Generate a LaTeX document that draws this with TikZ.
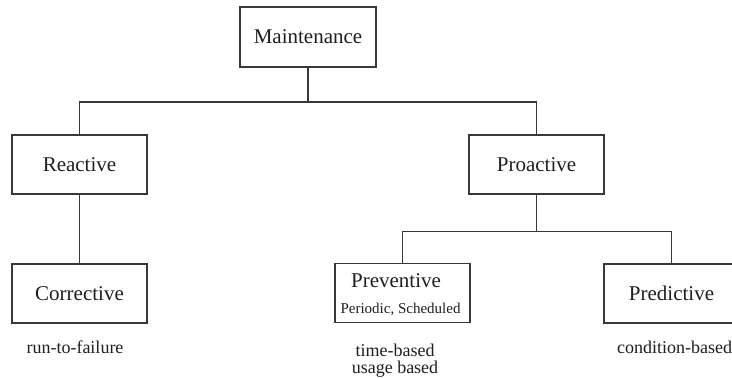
\documentclass[tikz,border=0pt]{standalone}
\usepackage{fontspec}
\setmainfont{Liberation Serif}
\newfontfamily\diagramfont{Liberation Serif}
\begin{document}
\begin{tikzpicture}[x=1pt,y=-1pt,
  box/.style={draw=black!78, line width=1.5pt, fill=white, minimum width=135pt,
    minimum height=59pt, inner sep=0pt, text=black!88,
    font=\diagramfont\fontsize{21}{24}\selectfont},
  label/.style={inner sep=0pt, text=black!88, font=\diagramfont\fontsize{21}{24}\selectfont},
  sublabel/.style={inner sep=0pt, text=black!88, font=\diagramfont\fontsize{15}{17}\selectfont},
  note/.style={inner sep=0pt, text=black!88, font=\diagramfont\fontsize{18}{21}\selectfont, anchor=base},
  link/.style={draw=black!78, line width=1.5pt}]
\clip (0,0) rectangle (732,378);
\fill[white] (0,0) rectangle (732,378);

% hierarchy boxes
\node[box, minimum width=136pt, minimum height=60pt] (maint) at (308,37) {Maintenance};
\node[box] (react) at (79.5,164.5) {Reactive};
\node[box] (proact) at (536.5,164.5) {Proactive};
\node[box] (corr) at (79.5,293.5) {Corrective};
\node[box] (prev) at (402.5,293) {};
\node[label, anchor=base] (prevtitle) at (396,287) {Preventive};
\node[sublabel, anchor=base] (prevsub) at (400.5,313) {Periodic, Scheduled};
\node[box] (pred) at (671.5,293.5) {Predictive};

% connectors
\draw[link] (maint.south) -- ++(0,34) -| (react.north);
\draw[link] (maint.south) ++(0,34) -| (proact.north);
\draw[link] (react.south) -- (corr.north);
\draw[link] (proact.south) -- ++(0,36.5) -| (prev.north);
\draw[link] (proact.south) ++(0,36.5) -| (pred.north);

% annotations below the leaves
\node[note] (rtf) at (75,353) {run-to-failure};
\node[note] (tb) at (395,356) {time-based};
\node[note] (ub) at (395,373) {usage based};
\node[note, anchor=base west] (cb) at (617,353) {condition-based};
\end{tikzpicture}
\end{document}
